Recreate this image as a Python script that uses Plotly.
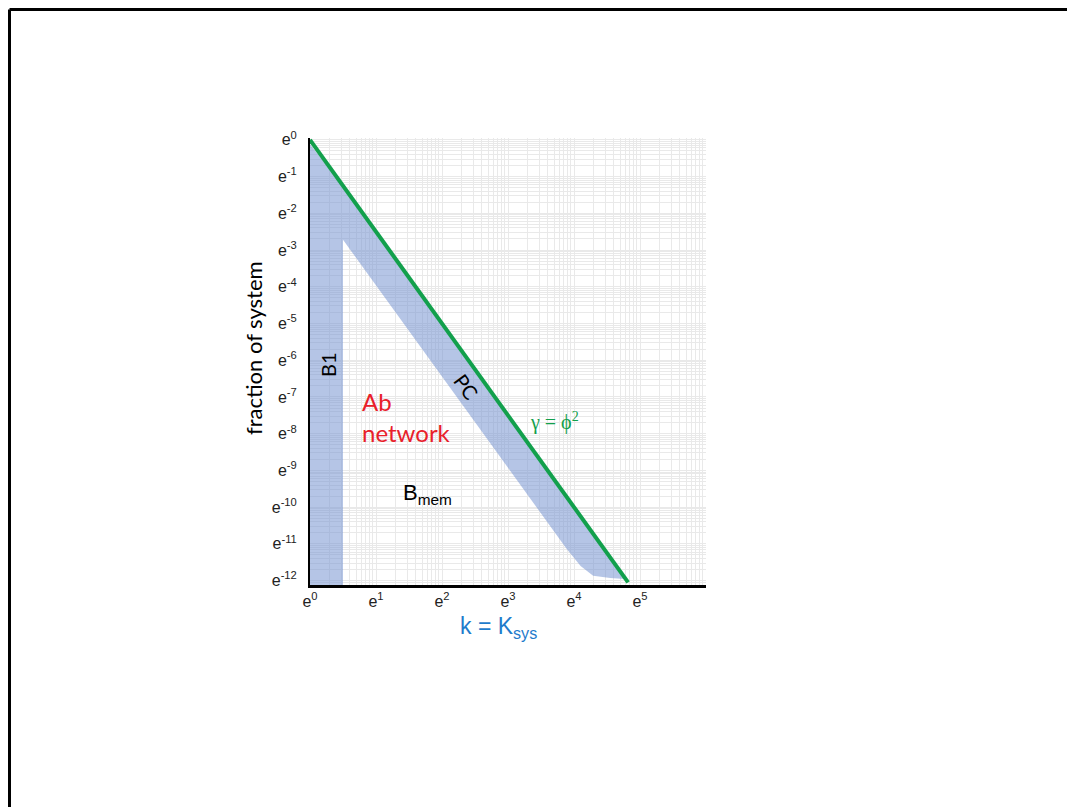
import numpy as np
import plotly.graph_objects as go

# ---- data (natural-log units) ----
tick_exp_x = [0, 1, 2, 3, 4, 5]
tick_exp_y = [0, -1, -2, -3, -4, -5, -6, -7, -8, -9, -10, -11, -12]

# gamma = phi^2 line
gamma_lnk = [0.0, 4.82]
gamma_lnf = [0.0, -12.05]

# PC band: upper edge along the line, lower edge
pc_upper_lnk = [0.5, 4.82]
pc_upper_lnf = [-1.25, -12.05]
pc_lower_lnk = [4.77, 4.55, 4.29, 4.10, 3.89, 0.5]
pc_lower_lnf = [-11.96, -11.93, -11.87, -11.60, -11.14, -2.72]

# B1 band
b1_lnk = [0.0, 0.5, 0.5, 0.0]
b1_lnf = [-0.12, -1.25, -12.12, -12.12]

X_RANGE = [0, 6]
Y_RANGE = [-12.12, 0.05]

fig = go.Figure()

fig.add_trace(go.Scatter(
    x=np.exp(b1_lnk), y=np.exp(b1_lnf), fill="toself", mode="lines",
    line=dict(width=0), fillcolor="rgba(120,150,210,0.55)", hoverinfo="skip"))

fig.add_trace(go.Scatter(
    x=np.exp(pc_upper_lnk + pc_lower_lnk), y=np.exp(pc_upper_lnf + pc_lower_lnf),
    fill="toself", mode="lines", line=dict(width=0),
    fillcolor="rgba(120,150,210,0.55)", hoverinfo="skip"))

fig.add_trace(go.Scatter(
    x=np.exp(gamma_lnk), y=np.exp(gamma_lnf), mode="lines",
    line=dict(color="#12a04c", width=4), hoverinfo="skip"))


def minor_vals(lo, hi):
    vals = []
    for n in range(lo, hi):
        for k in range(2, 10):
            vals.append(float(np.exp(n + np.log10(k))))
        vals.append(float(np.exp(n + 1)))
    return vals


tickfont = dict(family="Liberation Sans, Arial", size=16, color="#222222")

fig.update_xaxes(
    type="log", range=[X_RANGE[0] * np.log10(np.e), X_RANGE[1] * np.log10(np.e)],
    tickmode="array", tickvals=[float(np.exp(v)) for v in tick_exp_x],
    ticktext=[f"e<sup>{v}</sup>" for v in tick_exp_x], tickfont=tickfont,
    showgrid=False, zeroline=False, showline=True, linecolor="black", linewidth=3,
    ticks="", ticklabelstandoff=0,
    minor=dict(tickmode="array", tickvals=minor_vals(0, 6), showgrid=True,
               gridcolor="#e9e9e9", gridwidth=1, ticks=""),
)
fig.update_yaxes(
    type="log", range=[Y_RANGE[0] * np.log10(np.e), Y_RANGE[1] * np.log10(np.e)],
    tickmode="array", tickvals=[float(np.exp(v)) for v in tick_exp_y],
    ticktext=[f"e<sup>{v}</sup>" for v in tick_exp_y], tickfont=tickfont,
    showgrid=False, zeroline=False, showline=True, linecolor="black", linewidth=2,
    ticks="", ticklabelstandoff=8,
    minor=dict(tickmode="array", tickvals=minor_vals(-13, 0), showgrid=True,
               gridcolor="#e9e9e9", gridwidth=1, ticks=""),
)

OFF = 8  # page body margin
L, R, T, B = 310 - OFF, 706 - OFF, 138 - OFF, 585 - OFF
W, H = 1075, 807
pw, ph = R - L, B - T


def px(x):
    return (x - OFF - L) / pw


def py(y):
    return (B - (y - OFF)) / ph


# slide frame (top and left edges), drawn at the figure's top-left edge
fig.add_shape(type="line", xref="paper", yref="paper", x0=px(9.5), x1=px(1095), y0=py(9.5), y1=py(9.5),
              line=dict(color="black", width=3))
fig.add_shape(type="line", xref="paper", yref="paper", x0=px(9.5), x1=px(9.5), y0=py(9.5), y1=py(830),
              line=dict(color="black", width=3))

annots = [
    dict(text="fraction of system", x=px(253), y=py(348), textangle=-90,
         font=dict(family="Lato, Liberation Sans", size=22, color="black")),
    dict(text="k = K<sub>sys</sub>", x=px(498), y=py(627),
         font=dict(family="Liberation Sans, Arial", size=23, color="#1f7ccc")),
    dict(text="B1", x=px(328), y=py(365), textangle=-90, font=dict(family="Lato", size=20, color="black")),
    dict(text="PC", x=px(466), y=py(386), textangle=54, font=dict(family="Lato", size=20, color="black")),
    dict(text="Ab<br>network", x=px(360), y=py(417), xanchor="left", align="left",
         font=dict(family="Lato", size=24, color="#e8202a")),
    dict(text="B<sub>mem</sub>", x=px(427), y=py(494), font=dict(family="Liberation Sans, Arial", size=22, color="black")),
    dict(text="γ = ϕ<sup>2</sup>", x=px(554), y=py(421), font=dict(family="Liberation Serif, Times New Roman", size=20, color="#12a04c")),
]
for a in annots:
    a.update(xref="paper", yref="paper", showarrow=False)
    if "xanchor" not in a:
        a["xanchor"] = "center"
    a["yanchor"] = "middle"
    fig.add_annotation(**a)

fig.update_layout(
    width=W, height=H,
    margin=dict(l=L, r=W - R, t=T, b=H - B, autoexpand=False),
    paper_bgcolor="white", plot_bgcolor="white",
    showlegend=False,
)

fig.write_html("out.html")
